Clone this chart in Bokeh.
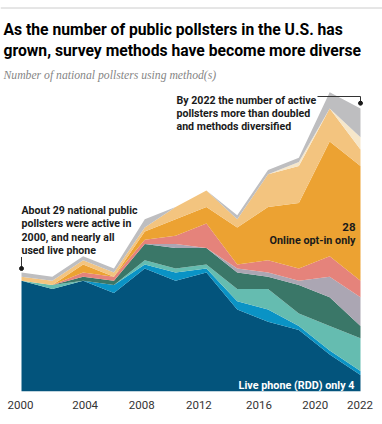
from bokeh.plotting import figure
from bokeh.models import ColumnDataSource, Range1d, Label, Span, FixedTicker
from bokeh.embed import file_html
from bokeh.resources import INLINE

# ---- data ----
years = [2000, 2002, 2004, 2006, 2008, 2010, 2012, 2014, 2016, 2018, 2020, 2022]
live_phone_only   = [27, 25, 27, 24, 30, 27, 29, 20, 17, 15, 9, 4]
live_phone_other  = [0, 0, 0, 2, 1, 2, 1, 2, 3, 1, 1, 1]
phone_mixed       = [0, 1, 0, 0, 1, 1, 1, 3, 5, 3, 6, 8]
ivr_mixed         = [0, 0, 1, 1, 4, 5, 4, 4, 3, 7, 7, 3]
online_prob       = [0, 0, 0, 0, 0, 1, 0, 1, 1, 1, 5, 7]
online_mixed      = [0, 0, 1, 1, 1, 2, 6, 1, 3, 3, 5, 4]
online_optin_only = [0, 0, 2, 0, 2, 4, 4, 9, 13, 16, 28, 28]
optin_other       = [1, 1, 1, 1, 1, 3, 4, 2, 8, 9, 8, 4]
text_methods      = [0, 0, 0, 0, 0, 0, 0, 0, 0, 1, 0, 3]
other_methods     = [1, 1, 1, 1, 2, 0, 0, 1, 1, 1, 4, 7]

series_names = ["live_phone_only", "live_phone_other", "phone_mixed", "ivr_mixed",
                "online_prob", "online_mixed", "online_optin_only", "optin_other",
                "text_methods", "other_methods"]
series_values = [live_phone_only, live_phone_other, phone_mixed, ivr_mixed,
                 online_prob, online_mixed, online_optin_only, optin_other,
                 text_methods, other_methods]
colors = ["#03547c", "#0a93c5", "#65bcb0", "#3a7768", "#aba6b3",
          "#e5837b", "#eca232", "#f3c47f", "#f6e7ca", "#bebec0"]

tick_years = [2000, 2004, 2008, 2012, 2016, 2020, 2022]
tick_labels = ["2000", "2004", "2008", "2012", "2016", "2020", "2022"]

# ---- layout helpers (page pixel -> data) ----
W, H = 382, 424
PX_PER_YEAR = 339 / 22.0
PX_PER_UNIT = 4.1
X0_PX = 21       # x pixel of year 2000
BASE_PX = 391    # y pixel of baseline

def dx(px):
    return 2000 + (px - X0_PX) / PX_PER_YEAR

def dy(py):
    return (BASE_PX - py) / PX_PER_UNIT

x_start = dx(0)
x_end = dx(W)
y_end = BASE_PX / PX_PER_UNIT

data = {"year": years}
for n, v in zip(series_names, series_values):
    data[n] = v
source = ColumnDataSource(data)

p = figure(width=W, height=H, output_backend="svg", toolbar_location=None,
           x_range=Range1d(x_start, x_end), y_range=Range1d(0, y_end),
           min_border_left=0, min_border_right=0, min_border_top=0,
           min_border_bottom=H - BASE_PX)
p.outline_line_color = None
p.background_fill_color = "white"
p.border_fill_color = "white"
p.grid.visible = False
p.yaxis.visible = False

p.varea_stack(stackers=series_names, x="year", color=colors, source=source)

# x axis
nudges_px = [-1, 2, -3, -7.5, -9, -14.5, -0.5]
ticks = [round(y + n / PX_PER_YEAR, 4) for y, n in zip(tick_years, nudges_px)]
p.xaxis.ticker = FixedTicker(ticks=ticks)
p.xaxis.major_label_overrides = {t: l for t, l in zip(ticks, tick_labels)}
p.xaxis.axis_line_color = None
p.xaxis.major_tick_line_color = None
p.xaxis.minor_tick_line_color = None
p.xaxis.major_label_text_font = "Roboto"
p.xaxis.major_label_text_font_size = "11.5px"
p.xaxis.major_label_text_color = "#333333"
p.xaxis.major_label_standoff = 3

# top rule
p.add_layout(Span(location=dy(7.5), dimension="width", line_color="#cccccc", line_width=1))

def lab(px, py, text, size, color="#1a1a1a", bold=True, font="Roboto", align="left", italic=False):
    style = "bold" if bold else "normal"
    if italic:
        style = "italic"
    p.add_layout(Label(x=dx(px), y=dy(py), text=text, text_font=font,
                       text_font_size=size, text_color=color, text_font_style=style,
                       text_align=align, text_baseline="alphabetic"))

# title & subtitle
lab(3, 29, "As the number of public pollsters in the U.S. has", "15.7px", color="#000000")
lab(3, 50, "grown, survey methods have become more diverse", "15.7px", color="#000000")
lab(3, 75, "Number of national pollsters using method(s)", "11.7px", color="#858585",
    bold=False, font="Liberation Serif", italic=True)

# annotation 1
for i, t in enumerate(["About 29 national public", "pollsters were active in",
                       "2000, and nearly all", "used live phone"]):
    lab(21, 209.5 + 13.5 * i, t, "10.6px")
p.segment(x0=[dx(21)], y0=[dy(256.5)], x1=[dx(21)], y1=[dy(268)], line_color="#333333", line_width=1)
p.scatter(x=[dx(21)], y=[dy(268)], size=4, color="#1a1a1a")

# annotation 2
for i, t in enumerate(["By 2022 the number of active", "pollsters more than doubled",
                       "and methods diversified"]):
    lab(176, 100 + 13.2 * i, t, "10.6px")
p.line(x=[dx(317), dx(360), dx(360)], y=[dy(96), dy(96), dy(102.7)], line_color="#333333", line_width=1)
p.scatter(x=[dx(360)], y=[dy(102.7)], size=4, color="#1a1a1a")

# in-area labels
lab(355, 226.7, "28", "11.5px", align="right")
lab(355, 239.5, "Online opt-in only", "10.8px", align="right")
lab(354, 385, "Live phone (RDD) only 4", "10.8px", color="#ffffff", align="right")

open("out.html", "w").write(file_html(p, INLINE))
